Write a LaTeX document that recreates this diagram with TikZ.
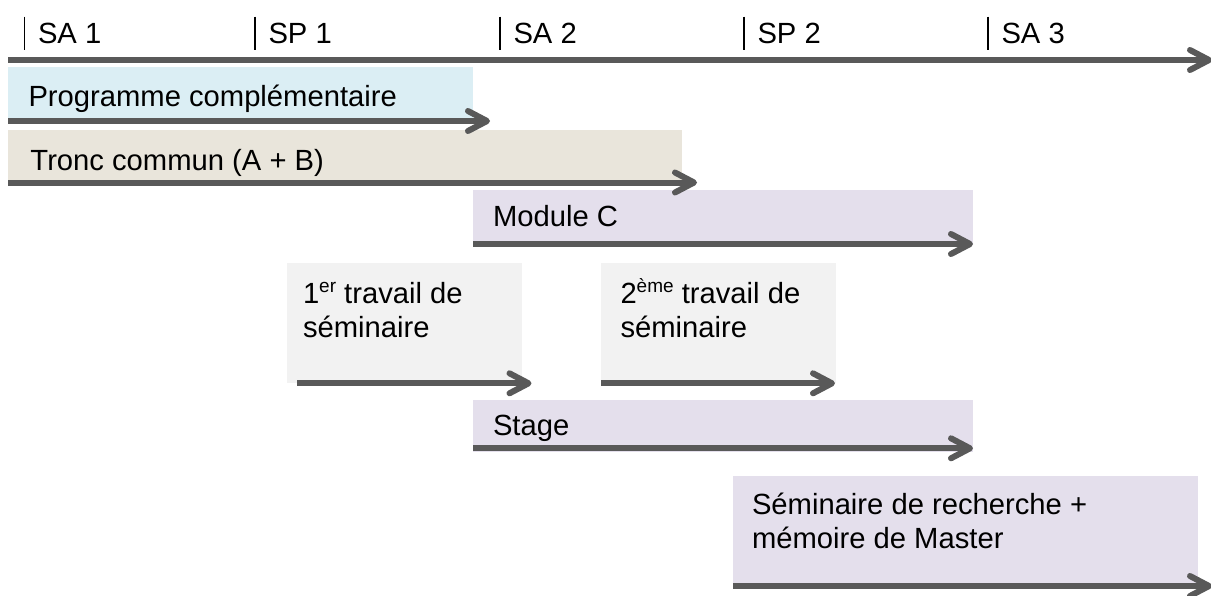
\documentclass[tikz,border=0pt]{standalone}
\usepackage{fontspec}
\setmainfont{Liberation Sans}
\usetikzlibrary{arrows.meta}
\definecolor{arrowgray}{HTML}{595959}
\definecolor{pcblue}{HTML}{DBEEF4}
\definecolor{tcbeige}{HTML}{E9E5DB}
\definecolor{lav}{HTML}{E4DFEC}
\definecolor{lgray}{HTML}{F2F2F2}
\newcommand\supx[1]{\raisebox{10.5pt}{\fontsize{19}{19}\selectfont #1}}
\begin{document}
\begin{tikzpicture}[x=1pt,y=-1pt,
  lbl/.style={anchor=base west, inner sep=0pt, outer sep=0pt, font=\fontsize{29.2}{34}\selectfont},
  bar/.style={draw=arrowgray, line width=6pt, line cap=butt, -{Straight Barb[length=19pt,width=20pt,round]}},
  tickmark/.style={draw=black, line width=1.5pt},
  panel/.style={anchor=north west, inner sep=0pt, outer sep=0pt, draw=none}]
\clip (0,0) rectangle (1211,595);
\fill[white] (0,0) rectangle (1211,595);

% header ticks and labels
\foreach \x/\t/\n in {24.5/SA 1/h1, 255/SP 1/h2, 500/SA 2/h3, 744/SP 2/h4, 988/SA 3/h5}{
  \coordinate (\n-top) at (\x,16.5);
  \coordinate (\n-bot) at (\x,49.5);
  \draw[tickmark] (\n-top) -- (\n-bot);
  \node[lbl] (\n) at (\x+13.5,43.3) {\t};
}

% boxes
\node[panel, fill=pcblue, minimum width=464.7pt, minimum height=54pt] (pc) at (8,67) {};
\node[panel, fill=tcbeige, minimum width=674pt, minimum height=53pt] (tc) at (8,130) {};
\node[panel, fill=lav, minimum width=500pt, minimum height=54pt] (mc) at (473.3,190) {};
\node[panel, fill=lgray, minimum width=235pt, minimum height=120.3pt] (t1) at (286.7,263) {};
\node[panel, fill=lgray, minimum width=235pt, minimum height=120pt] (t2) at (601,263.3) {};
\node[panel, fill=lav, minimum width=500.3pt, minimum height=52pt] (st) at (473,400) {};
\node[panel, fill=lav, minimum width=465pt, minimum height=111pt] (sr) at (732.7,476) {};

% labels
\node[lbl] (pcl) at (28.5,106) {Programme complémentaire};
\node[lbl] (tcl) at (30.5,170) {Tronc commun (A + B)};
\node[lbl] (mcl) at (493,226.7) {Module C};
\node[lbl] (t1l) at (303,303.3) {\vtop{\hbox{1\supx{er} travail de}\hbox{séminaire}}};
\node[lbl] (t2l) at (620.5,303.3) {\vtop{\hbox{2\supx{ème} travail de}\hbox{séminaire}}};
\node[lbl] (stl) at (493,435) {Stage};
\node[lbl] (srl) at (752,514.3) {\vtop{\hbox{Séminaire de recherche +}\hbox{mémoire de Master}}};

% arrows
\coordinate (tl-start) at (8,60);
\coordinate (tl-end) at (1212,60);
\draw[bar] (tl-start) -- (tl-end);

\coordinate (pc-s) at (8,121);   \coordinate (pc-e) at (490,121);
\coordinate (tc-s) at (8,182.5); \coordinate (tc-e) at (697,182.5);
\coordinate (mc-s) at (473.3,244); \coordinate (mc-e) at (973,244);
\coordinate (t1-s) at (297.3,383.3); \coordinate (t1-e) at (531.5,383.3);
\coordinate (t2-s) at (601,383.3); \coordinate (t2-e) at (835,383.3);
\coordinate (st-s) at (473,448.3); \coordinate (st-e) at (973,448.3);
\coordinate (sr-s) at (733,586); \coordinate (sr-e) at (1212,586);
\foreach \n in {pc,tc,mc,t1,t2,st,sr}{
  \draw[bar] (\n-s) -- (\n-e);
}
\end{tikzpicture}
\end{document}
